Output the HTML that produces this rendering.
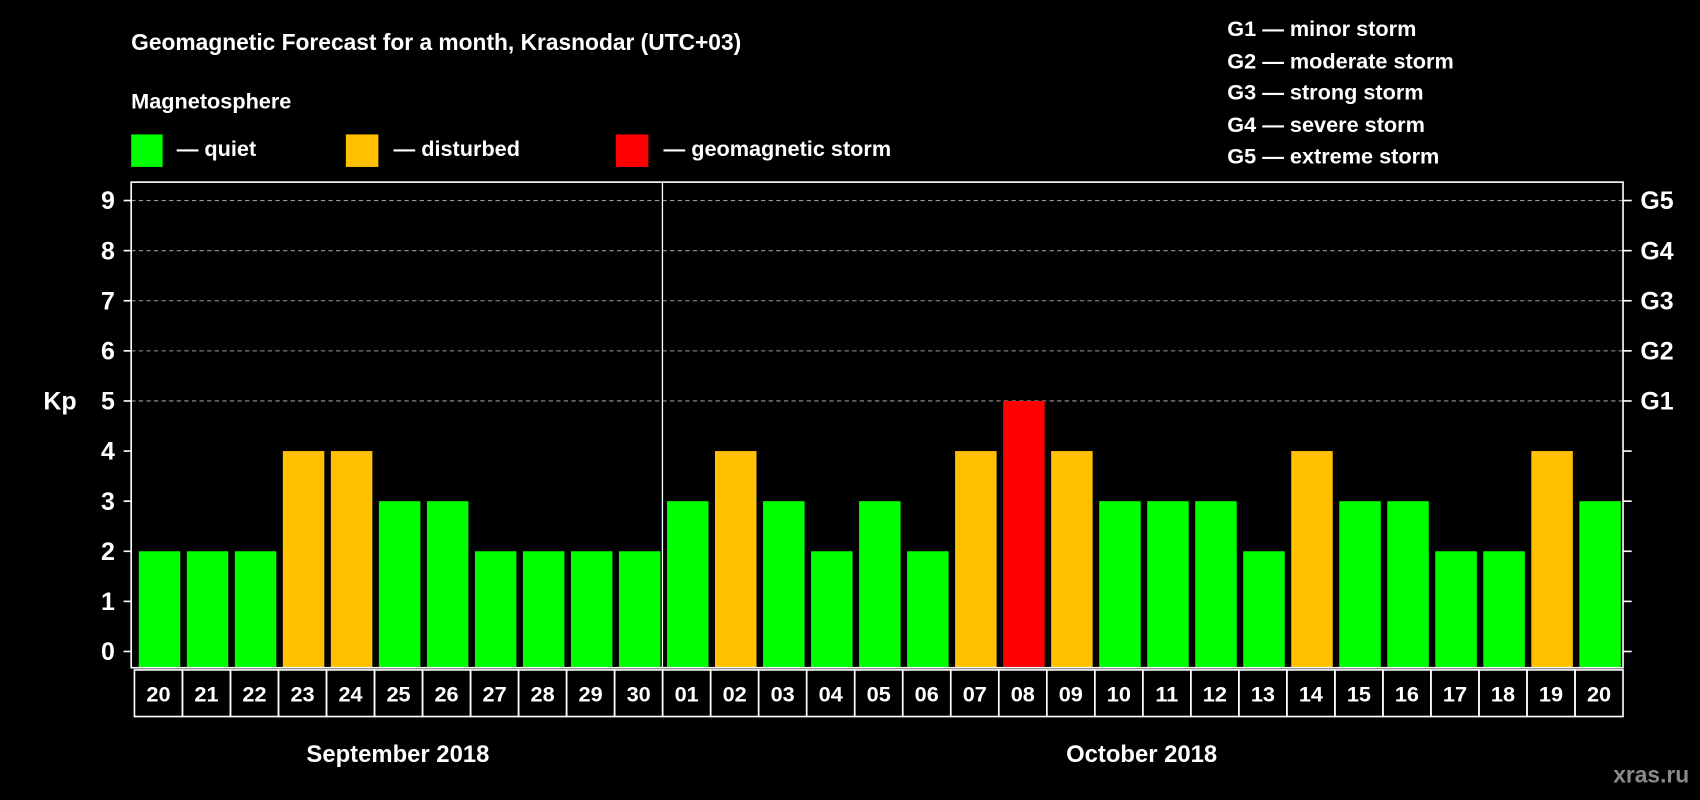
<!DOCTYPE html>
<html><head><meta charset="utf-8"><style>
html,body{margin:0;padding:0;background:#000;width:1700px;height:800px;overflow:hidden}
svg{display:block;font-family:"Liberation Sans",Arial,sans-serif;font-weight:bold}
</style></head><body>
<svg id="chart" width="1700" height="800" viewBox="0 0 1568 738" preserveAspectRatio="none" xmlns="http://www.w3.org/2000/svg">
<rect width="1568" height="738" fill="#000"/>
<text x="121" y="46" fill="#fff" font-size="21">Geomagnetic Forecast for a month, Krasnodar (UTC+03)</text>
<text x="121" y="100" fill="#fff" font-size="20">Magnetosphere</text>
<g><rect x="121" y="124" width="29" height="30" fill="#00ff00"/><text x="163" y="144" fill="#fff" font-size="20">— quiet</text></g>
<g><rect x="319" y="124" width="30" height="30" fill="#ffc000"/><text x="363" y="144" fill="#fff" font-size="20">— disturbed</text></g>
<g><rect x="568" y="124" width="30" height="30" fill="#ff0000"/><text x="612" y="144" fill="#fff" font-size="20">— geomagnetic storm</text></g>
<g fill="#fff" font-size="20">
<text x="1132" y="33">G1 — minor storm</text>
<text x="1132" y="63">G2 — moderate storm</text>
<text x="1132" y="92">G3 — strong storm</text>
<text x="1132" y="122">G4 — severe storm</text>
<text x="1132" y="151">G5 — extreme storm</text>
</g>
<g id="grid"></g>
<g id="bars"></g>
<rect x="121" y="168" width="1376" height="448" fill="none" stroke="#fff" stroke-width="1.5"/>
<line x1="611" y1="168" x2="611" y2="616" stroke="#fff" stroke-width="1.2"/>
<g id="axes"></g>
<g id="dates"></g>
<text x="40" y="378" fill="#fff" font-size="23">Kp</text>
<text x="367" y="703" fill="#fff" font-size="22" text-anchor="middle">September 2018</text>
<text x="1053" y="703" fill="#fff" font-size="22" text-anchor="middle">October 2018</text>
<text x="1558" y="722" fill="#8a8a8a" font-size="21" text-anchor="end">xras.ru</text>
</svg>
<script>
const days = ["20","21","22","23","24","25","26","27","28","29","30","01","02","03","04","05","06","07","08","09","10","11","12","13","14","15","16","17","18","19","20"];
const kpValues = [2,2,2,4,4,3,3,2,2,2,2,3,4,3,2,3,2,4,5,4,3,3,3,2,4,3,3,2,2,4,3];
const kpTicks = [0,1,2,3,4,5,6,7,8,9];
const gLabels = ["G1","G2","G3","G4","G5"];
const NS="http://www.w3.org/2000/svg";
const x0=124, pitch=(1497-124)/31, y0=601, unit=(601-185)/9;
const xs=i=>x0+i*pitch;
const ys=v=>y0-v*unit;
function mk(tag,attrs,parent){const e=document.createElementNS(NS,tag);for(const k in attrs)e.setAttribute(k,attrs[k]);parent.appendChild(e);return e;}
const grid=document.getElementById('grid'),bars=document.getElementById('bars'),axes=document.getElementById('axes'),dates=document.getElementById('dates');
kpTicks.forEach(v=>{
  const y=ys(v);
  if(v>=5){const l=mk('line',{x1:121,x2:1497,y1:y,y2:y,stroke:'#999','stroke-dasharray':'4,3','stroke-width':1},grid);
  
  }
  mk('line',{x1:114,x2:121,y1:y,y2:y,stroke:'#fff','stroke-width':1.5},axes);
  mk('line',{x1:1497,x2:1505,y1:y,y2:y,stroke:'#fff','stroke-width':1.5},axes);
  const t=mk('text',{x:106,y:y+8,fill:'#fff','font-size':23,'text-anchor':'end'},axes);
  
  
  t.textContent=v;
});
gLabels.forEach((g,i)=>{
  const t=mk('text',{x:1513,y:ys(5+i)+8,fill:'#fff','font-size':23},axes);
  
  
  t.textContent=g;
});
kpValues.forEach((v,i)=>{
  const col=v>=5?'#ff0000':(v>=4?'#ffc000':'#00ff00');
  const r=mk('rect',{x:xs(i)+4,y:ys(v),width:pitch-6,height:616-ys(v),fill:col},bars);
  
  
});
days.forEach((d,i)=>{
  const b=mk('rect',{x:xs(i),y:618,width:pitch,height:43,fill:'none',stroke:'#fff','stroke-width':1.5},dates);
  
  
  const t=mk('text',{x:xs(i)+pitch/2,y:647,fill:'#fff','font-size':20,'text-anchor':'middle'},dates);
  
  
  t.textContent=d;
});
</script>
</body></html>
